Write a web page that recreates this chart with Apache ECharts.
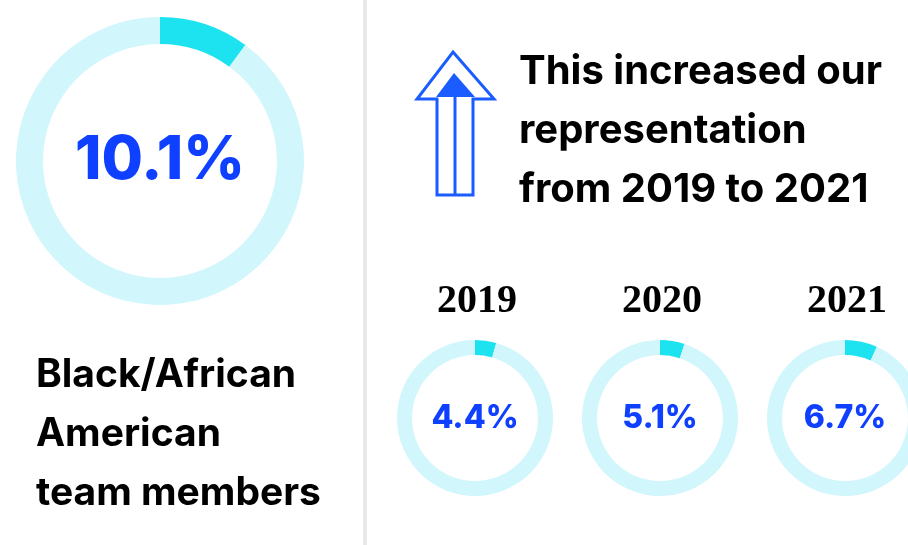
<!DOCTYPE html>
<html><head><meta charset="utf-8">
<script src="https://cdn.jsdelivr.net/npm/echarts@6/dist/echarts.min.js"></script>
<style>html,body{margin:0;padding:0;background:#fff}#c{width:908px;height:545px}</style>
</head><body><div id="c"></div>
<script>
const overallLabel = 'Black/African American team members';
const overallValue = 10.1;
const years = ['2019', '2020', '2021'];
const yearValues = [4.4, 5.1, 6.7];
const headingLines = ['This increased our', 'representation', 'from 2019 to 2021'];
const labelLines = ['Black/African', 'American', 'team members'];

const HI = '#1de3f1', BG = '#d1f6fb', BLUE = '#1040ff';
const chart = echarts.init(document.getElementById('c'), null, {renderer: 'canvas'});

function donut(value, center, rIn, rOut, fontSize, pad) {
  return {
    type: 'pie', center: center, radius: [rIn, rOut], startAngle: 90, clockwise: true,
    silent: true, animation: false, avoidLabelOverlap: false,
    labelLine: {show: false},
    data: [
      {value: value, name: 'v', itemStyle: {color: HI},
       label: {show: true, position: 'center', formatter: value.toFixed(1) + '%', padding: [pad, 0, 0, 0],
               color: BLUE, fontFamily: 'Inter', fontWeight: 800, fontSize: fontSize}},
      {value: +(100 - value).toFixed(1), name: 'rest', itemStyle: {color: BG}, label: {show: false}}
    ]
  };
}

const series = [donut(overallValue, [160, 161], 117, 144, 60, 0)];
const smallCx = [475, 660, 845];
yearValues.forEach((v, i) => series.push(donut(v, [smallCx[i], 418], 63, 78, 32, 10)));

const graphics = [];
graphics.push({type: 'rect', shape: {x: 363, y: 0, width: 4, height: 545}, style: {fill: '#e8e8e8'}, silent: true});
labelLines.forEach((t, i) => graphics.push({type: 'text', x: 36, y: 356 + i * 59,
  style: {text: t, fill: '#000', font: '700 39px Inter', textVerticalAlign: 'top'}}));
headingLines.forEach((t, i) => graphics.push({type: 'text', x: 519, y: 52 + i * 59,
  style: {text: t, fill: '#000', font: '700 40px Inter', textVerticalAlign: 'top'}}));
years.forEach((t, i) => graphics.push({type: 'text', x: smallCx[i] + 2, y: 282,
  style: {text: t, fill: '#000', font: '700 40px "Liberation Serif"', textAlign: 'center', textVerticalAlign: 'top'}}));
const AB = '#1a5cff';
graphics.push({type: 'polygon', shape: {points: [[453, 52], [494, 99], [473, 99], [473, 195], [437, 195], [437, 99], [417, 99]]},
  style: {fill: 'none', stroke: AB, lineWidth: 3, lineJoin: 'miter'}, silent: true});
graphics.push({type: 'line', shape: {x1: 455, y1: 97, x2: 455, y2: 195}, style: {stroke: AB, lineWidth: 3}, silent: true});
graphics.push({type: 'polygon', shape: {points: [[454, 73], [475, 97], [436, 97]]}, style: {fill: AB}, silent: true});

chart.setOption({animation: false, series: series, graphic: graphics});
</script></body></html>
